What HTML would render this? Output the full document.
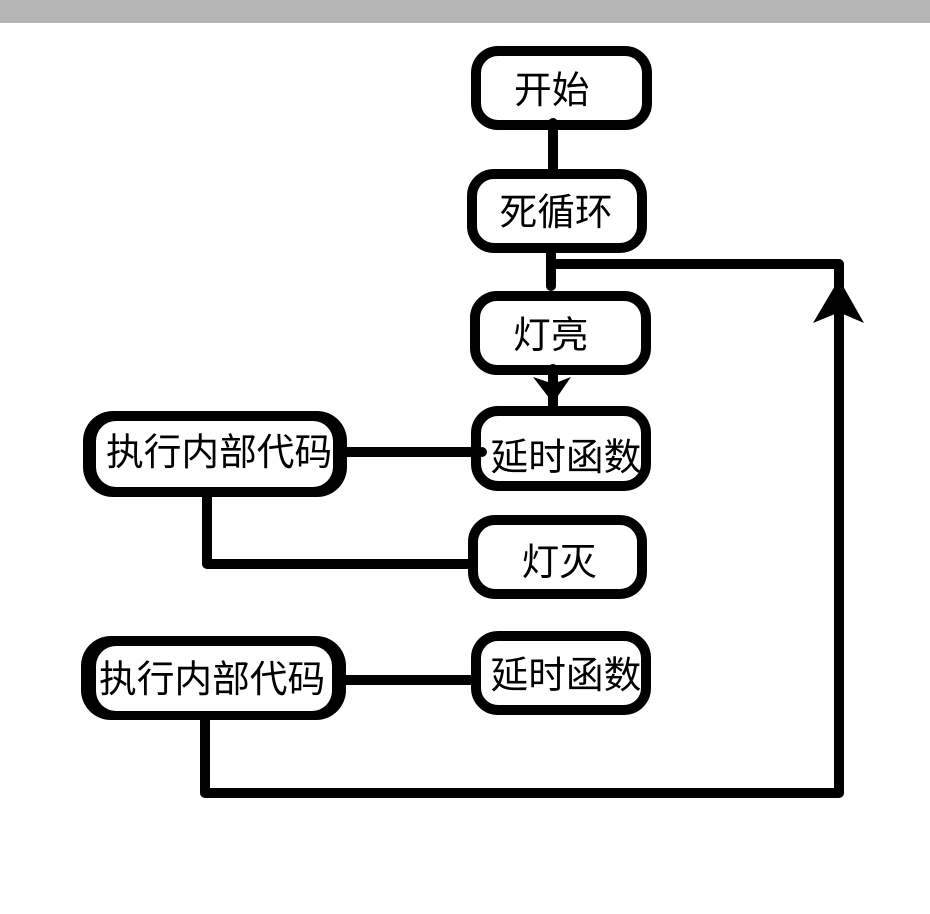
<!DOCTYPE html>
<html lang="zh">
<head>
<meta charset="utf-8">
<style>
html,body{margin:0;padding:0;background:#fff;width:930px;height:914px;overflow:hidden}
svg{display:block}
text{font-family:"Liberation Sans","Noto Sans CJK SC",sans-serif;font-size:37.7px;fill:#000;font-weight:400}
</style>
</head>
<body>
<svg width="930" height="914" viewBox="0 0 930 914" xmlns="http://www.w3.org/2000/svg">
<rect x="0" y="0" width="930" height="23" fill="#b3b4b3"/>

<!-- connectors -->
<g stroke="#000" stroke-width="10" fill="none" stroke-linecap="round" stroke-linejoin="round">
<path d="M553 123V175"/>
<path d="M551 248V286"/>
<path d="M551 264H839V793H205V715"/>
<path d="M553 368V410"/>
<path d="M340 452H481"/>
<path d="M207 492V564H472"/>
<path d="M335 680H475"/>
</g>
<polygon points="839,279 864,323 843,314 835,314 813,323" fill="#000"/>
<polygon points="533,377 548,382 558,382 571,377 553,403" fill="#000"/>

<!-- boxes -->
<g fill="#fff" stroke="#000" stroke-width="10">
<rect x="476" y="51" width="171" height="74" rx="22"/>
<rect x="472" y="174" width="170" height="74" rx="22"/>
<rect x="475" y="296" width="171" height="74" rx="22"/>
<rect x="476" y="411" width="170" height="75" rx="22"/>
<rect x="473" y="520" width="169" height="74" rx="22"/>
<rect x="476" y="636" width="170" height="74" rx="22"/>
</g>
<circle cx="553" cy="123" r="5" fill="#000"/>
<circle cx="553" cy="369" r="5" fill="#000"/>
<circle cx="482" cy="452" r="5" fill="#000"/>

<!-- wide boxes -->
<rect x="83" y="411" width="264" height="86" rx="30" fill="#000"/>
<rect x="96" y="421" width="237" height="66" rx="20" fill="#fff"/>
<rect x="81" y="636" width="265" height="84" rx="30" fill="#000"/>
<rect x="96" y="646" width="236" height="65" rx="20" fill="#fff"/>

<!-- labels -->
<text x="514" y="103">开始</text>
<text x="499.5" y="225">死循环</text>
<text x="513" y="348">灯亮</text>
<text x="490.5" y="470">延时函数</text>
<text x="521.5" y="575">灯灭</text>
<text x="490.5" y="688">延时函数</text>
<text x="106" y="465">执行内部代码</text>
<text x="99" y="692">执行内部代码</text>
</svg>
</body>
</html>
